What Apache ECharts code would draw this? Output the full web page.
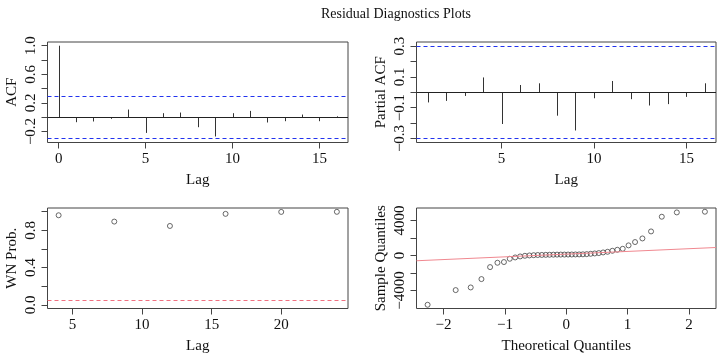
<!DOCTYPE html>
<html>
<head>
<meta charset="utf-8">
<script src="https://cdn.jsdelivr.net/npm/echarts@6/dist/echarts.min.js"></script>
<style>html,body{margin:0;padding:0;background:#fff;}#c{width:720px;height:358px;}</style>
</head>
<body>
<div id="c"></div>
<script>
// ---- data ----
const titleText = 'Residual Diagnostics Plots';
const acfLags = [0,1,2,3,4,5,6,7,8,9,10,11,12,13,14,15,16];
const acfValues = [1.0,-0.07,-0.06,-0.023,0.107,-0.22,0.056,0.065,-0.14,-0.27,0.056,0.088,-0.074,-0.056,0.037,-0.056,0.012];
const pacfLags = [1,2,3,4,5,6,7,8,9,10,11,12,13,14,15,16];
const pacfValues = [-0.066,-0.056,-0.024,0.096,-0.206,0.047,0.058,-0.152,-0.248,-0.039,0.073,-0.045,-0.086,-0.077,-0.030,0.058];
const confLimit = 0.302;
const wnLags = [4,8,12,16,20,24];
const wnProb = [0.962,0.894,0.847,0.977,0.998,0.999];
const wnLevel = 0.05;
const theoQuantiles = [-2.261,-1.803,-1.558,-1.383,-1.242,-1.122,-1.016,-0.921,-0.833,-0.752,-0.674,-0.601,-0.531,-0.464,-0.398,-0.334,-0.272,-0.210,-0.150,-0.090,-0.030,
  0.030,0.090,0.150,0.210,0.272,0.334,0.398,0.464,0.531,0.601,0.674,0.752,0.833,0.921,1.016,1.122,1.242,1.383,1.558,1.803,2.261];
const sampleQuantiles = [-5634,-3957,-3654,-2700,-1330,-834,-754,-377,-228,-114,-38,0,30,50,60,70,80,90,95,100,100,
  105,110,115,120,130,150,190,230,270,343,419,533,648,762,1150,1530,1943,2743,4423,4915,4995];
const qqIntercept = 150;
const qqSlope = 310;

const acfTicks = [-0.2,0,0.2,0.4,0.6,0.8,1.0];
const acfLabels = [-0.2,0.2,0.6,1.0];
const pacfTicks = [-0.3,-0.2,-0.1,0,0.1,0.2,0.3];
const pacfLabels = [-0.3,-0.1,0.1,0.3];
const wnTicks = [0,0.2,0.4,0.6,0.8,1.0];
const wnLabels = [0,0.4,0.8];
const qqYTicks = [-4000,-2000,0,2000,4000];
const qqYLabels = [-4000,0,4000];
const lagTicksA = [0,5,10,15];
const lagTicksB = [5,10,15];
const lagTicksC = [5,10,15,20];
const qqXTicks = [-2,-1,0,1,2];

// ---- styling ----
const FONT = 'Liberation Serif';
const TXT = '#111';
const AX = '#444';
const fmtMinus = v => String(v).replace('-', '\u2212');
const fmt1 = v => (v < 0 ? '\u2212' : '') + Math.abs(v).toFixed(1);

function xAx(gi, min, max, ticks, name) {
  return {
    type: 'value', gridIndex: gi, min, max,
    axisLine: {show: false, onZero: false},
    axisTick: {show: true, length: 6, customValues: ticks, lineStyle: {color: AX, width: 1}},
    axisLabel: {customValues: ticks, formatter: fmtMinus, fontFamily: FONT, fontSize: 15, color: TXT, margin: 9},
    splitLine: {show: false},
    name, nameLocation: 'middle', nameGap: 30,
    nameTextStyle: {fontFamily: FONT, fontSize: 15, color: TXT}
  };
}
function yAx(gi, min, max, ticks, labels, name, fmt) {
  return {
    type: 'value', gridIndex: gi, min, max,
    axisLine: {show: false, onZero: false},
    axisTick: {show: true, length: 6, customValues: ticks, lineStyle: {color: AX, width: 1}},
    axisLabel: {customValues: labels, formatter: fmt, rotate: 90, fontFamily: FONT, fontSize: 15, color: TXT, margin: 9},
    splitLine: {show: false},
    name, nameLocation: 'middle', nameGap: 28, nameRotate: 90,
    nameTextStyle: {fontFamily: FONT, fontSize: 15, color: TXT}
  };
}
function spikeSeries(xi, yi, lags, vals) {
  return {
    type: 'custom', xAxisIndex: xi, yAxisIndex: yi,
    data: lags.map((l, i) => [l, vals[i]]),
    renderItem: (params, api) => {
      const p0 = api.coord([api.value(0), 0]);
      const p1 = api.coord([api.value(0), api.value(1)]);
      const x = Math.round(p0[0]) + 0.5;
      return {type: 'line', shape: {x1: x, y1: p0[1], x2: x, y2: p1[1]}, style: {stroke: '#333', lineWidth: 1}};
    },
    silent: true
  };
}
function hLines(vals, color, dash, width) {
  return {
    silent: true, symbol: 'none', label: {show: false},
    lineStyle: {color, type: dash, width: width || 1},
    data: vals.map(v => ({yAxis: v}))
  };
}

const gridStyle = {show: true, borderColor: AX, borderWidth: 1, backgroundColor: 'transparent'};
const option = {
  animation: false,
  backgroundColor: '#fff',
  title: {text: titleText, left: 391, top: 2, textAlign: 'center',
    textStyle: {fontFamily: FONT, fontSize: 14, fontWeight: 'normal', color: TXT}},
  grid: [
    Object.assign({left: 47.5, top: 42, width: 300.5, height: 100.5}, gridStyle),
    Object.assign({left: 416.5, top: 42, width: 299.5, height: 100.5}, gridStyle),
    Object.assign({left: 47.5, top: 208, width: 300.5, height: 100.5}, gridStyle),
    Object.assign({left: 416.5, top: 208, width: 299.5, height: 100.5}, gridStyle)
  ],
  xAxis: [
    xAx(0, -0.64, 16.64, lagTicksA, 'Lag'),
    xAx(1, 0.4, 16.6, lagTicksB, 'Lag'),
    xAx(2, 3.2, 24.8, lagTicksC, 'Lag'),
    xAx(3, -2.442, 2.442, qqXTicks, 'Theoretical Quantiles')
  ],
  yAxis: [
    yAx(0, -0.354, 1.052, acfTicks, acfLabels, 'ACF', fmt1),
    yAx(1, -0.326, 0.326, pacfTicks, pacfLabels, 'Partial ACF', fmt1),
    yAx(2, -0.04, 1.04, wnTicks, wnLabels, 'WN Prob.', fmt1),
    yAx(3, -6059, 5420, qqYTicks, qqYLabels, 'Sample Quantiles', fmtMinus)
  ],
  series: [
    Object.assign(spikeSeries(0, 0, acfLags, acfValues), {
      markLine: hLines([0], '#222', 'solid')
    }),
    {type: 'line', xAxisIndex: 0, yAxisIndex: 0, data: [], markLine: hLines([confLimit, -confLimit], '#2233ee', [4, 3])},
    Object.assign(spikeSeries(1, 1, pacfLags, pacfValues), {
      markLine: hLines([0], '#222', 'solid')
    }),
    {type: 'line', xAxisIndex: 1, yAxisIndex: 1, data: [], markLine: hLines([confLimit, -confLimit], '#2233ee', [4, 3])},
    {type: 'scatter', xAxisIndex: 2, yAxisIndex: 2, data: wnLags.map((l, i) => [l, wnProb[i]]),
      symbol: 'circle', symbolSize: 5, itemStyle: {color: '#fff', borderColor: '#444', borderWidth: 1},
      markLine: hLines([wnLevel], '#f07080', [4, 3])},
    {type: 'line', xAxisIndex: 3, yAxisIndex: 3, showSymbol: false, symbol: 'none', silent: true,
      data: [[-2.442, qqIntercept + qqSlope * -2.442], [2.442, qqIntercept + qqSlope * 2.442]],
      lineStyle: {color: '#f08890', width: 1.2}},
    {type: 'scatter', xAxisIndex: 3, yAxisIndex: 3, data: theoQuantiles.map((q, i) => [q, sampleQuantiles[i]]),
      symbol: 'circle', symbolSize: 5, itemStyle: {color: 'rgba(255,255,255,0)', borderColor: '#444', borderWidth: 1}}
  ]
};
const chart = echarts.init(document.getElementById('c'), null, {renderer: 'canvas'});
chart.setOption(option);
</script>
</body>
</html>
